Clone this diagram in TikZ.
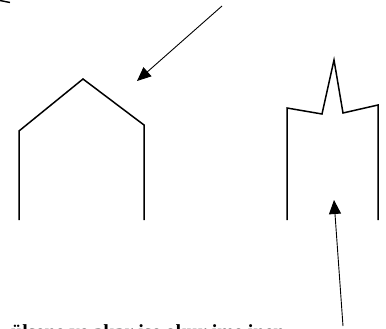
\documentclass[tikz,border=0pt]{standalone}
\usepackage{fontspec}
\setmainfont{Liberation Serif}
\usetikzlibrary{arrows.meta}
\tikzset{
  wall/.style={line width=1.5pt, line join=miter},
  pointer/.style={line width=0.9pt, -{Triangle[length=14pt,width=12pt]}},
}
\begin{document}
\begin{tikzpicture}[x=1pt,y=-1pt]
\useasboundingbox (0,0) rectangle (386,329);
\clip (0,0) rectangle (386,329);
% top-left fragment
\coordinate (fa) at (0,0.5);
\coordinate (fb) at (10,2.5);
\draw[line width=1.4pt] (fa) -- (fb);
% left house shape
\coordinate (l1) at (19,220);
\coordinate (l2) at (19,131);
\coordinate (l3) at (83,79);
\coordinate (l4) at (144,125);
\coordinate (l5) at (144,220);
\draw[wall] (l1) -- (l2) -- (l3) -- (l4) -- (l5);
% right spiked shape
\coordinate (r1) at (287,220);
\coordinate (r2) at (287,108);
\coordinate (r3) at (322,114);
\coordinate (r4) at (334,60);
\coordinate (r5) at (343,113);
\coordinate (r6) at (378,105);
\coordinate (r7) at (378,220);
\draw[wall] (r1) -- (r2) -- (r3) -- (r4) -- (r5) -- (r6) -- (r7);
% arrows
\coordinate (a1s) at (222,6);
\coordinate (a1e) at (137,81);
\draw[pointer] (a1s) -- (a1e);
\coordinate (a2s) at (343,326);
\coordinate (a2e) at (334,200);
\draw[pointer] (a2s) -- (a2e);
% cut-off caption (only the tops of its letters lie inside the picture)
\node[anchor=base west, inner sep=0pt, font=\fontsize{20}{24}\selectfont\bfseries] (cap) at (11,338.5) {ülsene ve akar ise okur ime inen};
\end{tikzpicture}
\end{document}
